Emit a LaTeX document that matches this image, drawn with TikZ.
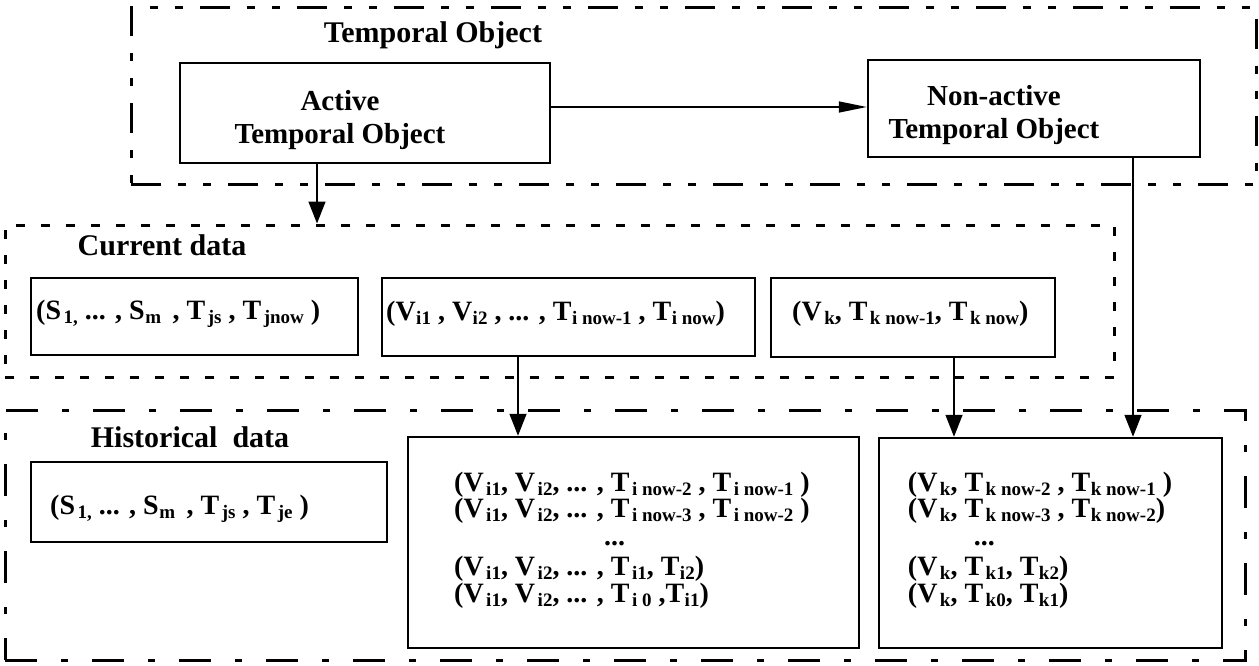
\documentclass[tikz,border=0pt]{standalone}
\usepackage{fontspec}
\setmainfont{Liberation Serif}
\usetikzlibrary{arrows.meta}
\newcommand{\lo}[1]{\hspace{2.5pt}\raisebox{-4pt}{\fontsize{19}{19}\selectfont #1}}
\newcommand{\lon}[1]{\hspace{0.5pt}\raisebox{-4pt}{\fontsize{19}{19}\selectfont #1}}
\begin{document}
\begin{tikzpicture}[x=1pt,y=-1pt,
  sbox/.style={draw, line width=2.5pt, inner sep=0pt},
  grpA/.style={draw, line width=3pt, inner sep=0pt, dash pattern=on 30pt off 17pt on 8pt off 17pt on 8pt off 17pt},
  grpB/.style={draw, line width=3pt, inner sep=0pt, dash pattern=on 9pt off 16pt},
  grpC/.style={draw, line width=3pt, inner sep=0pt, dash pattern=on 32pt off 24pt on 7pt off 24pt},
  hd/.style={font=\fontsize{30}{34}\selectfont\bfseries, inner sep=0pt},
  lbl/.style={font=\fontsize{29}{33}\selectfont\bfseries, align=center, inner sep=0pt},
  tup/.style={font=\fontsize{28}{25}\selectfont\bfseries, inner sep=0pt},
  arr/.style={-{Triangle[width=17pt,length=22pt]}, line width=1.5pt},
  harr/.style={-{Triangle[width=11pt,length=28pt]}, line width=1.5pt}]
\useasboundingbox (0,0) rectangle (1259,666);

% group boxes
\node[grpA, minimum width=1125pt, minimum height=177pt] (tobj) at (693.5,96.5) {};
\node[grpB, minimum width=1109pt, minimum height=152pt] (cur) at (559.5,301) {};
\node[grpC, minimum width=1240pt, minimum height=250pt] (hist) at (625,535) {};

% headings
\node[hd] (t1) at (433,35) {Temporal Object};
\node[hd] (t2) at (162,245) {Current data};
\node[hd] (t3) at (190,437) {Historical\ \ data};

% top boxes
\node[sbox, minimum width=370pt, minimum height=100pt] (act) at (365,113) {};
\node[lbl] (actl) at (340,120) {Active\\Temporal Object};
\node[sbox, minimum width=332pt, minimum height=97pt] (non) at (1034,108.5) {};
\node[lbl] (nonl) at (994,115) {Non-active\\Temporal Object};

% current data boxes
\node[sbox, minimum width=327pt, minimum height=77pt] (sc) at (194.5,316.5) {};
\node[tup, anchor=west] (sct) at (36,314) {(S\lo{1,} ... , S\lon{m} \,, T\lo{js} , T\lo{jnow} )};
\node[sbox, minimum width=373pt, minimum height=78pt] (vi) at (568.5,317) {};
\node[tup, anchor=west] (vit) at (386,314) {(V\lon{i1} , V\lon{i2} , ... , T\lon{i now-1} , T\lon{i now})};
\node[sbox, minimum width=284pt, minimum height=79pt] (vk) at (913,317.5) {};
\node[tup, anchor=west] (vkt) at (792,314) {(V\lo{k}, T\lo{k now-1}, T\lo{k now})};

% historical boxes
\node[sbox, minimum width=356pt, minimum height=80pt] (sh) at (209,502) {};
\node[tup, anchor=west] (sht) at (50,509) {(S\lo{1,} ... , S\lon{m} \,, T\lo{js} , T\lo{je} )};
\node[sbox, minimum width=451pt, minimum height=211pt] (vih) at (633.5,542.5) {};
\node[tup, anchor=center, align=left] (viht) at (632,540) {(V\lo{i1}, V\lo{i2}, ... , T\lo{i now-2} , T\lo{i now-1} )\\
(V\lo{i1}, V\lo{i2}, ... , T\lo{i now-3} , T\lo{i now-2} )\\[3pt]
\hspace*{150pt}...\\[5pt]
(V\lo{i1}, V\lo{i2}, ... , T\lo{i1}, T\lon{i2})\\
(V\lo{i1}, V\lo{i2}, ... , T\lo{i 0} ,T\lon{i1})};
\node[sbox, minimum width=343pt, minimum height=210pt] (vkh) at (1050.5,543) {};
\node[tup, anchor=center, align=left] (vkht) at (1040,540) {(V\lo{k}, T\lo{k now-2} , T\lon{k now-1} )\\
(V\lo{k}, T\lo{k now-3} , T\lon{k now-2})\\[3pt]
\hspace*{66pt}...\\[5pt]
(V\lo{k}, T\lo{k1}, T\lon{k2})\\
(V\lo{k}, T\lo{k0}, T\lon{k1})};

% connectors
\draw[harr] ([yshift=6pt]act.east) -- ([yshift=6pt]act.east -| non.west);
\draw[arr] ([xshift=-48pt]act.south) -- ([xshift=-48pt]act.south |- cur.north);
\draw[arr] ([xshift=-50.5pt]vi.south) -- ([xshift=-50.5pt]vi.south |- vih.north);
\draw[arr] ([xshift=41pt]vk.south) -- ([xshift=41pt]vk.south |- vkh.north);
\draw[arr] ([xshift=99pt]non.south) -- ([xshift=99pt]non.south |- vkh.north);
\end{tikzpicture}
\end{document}
